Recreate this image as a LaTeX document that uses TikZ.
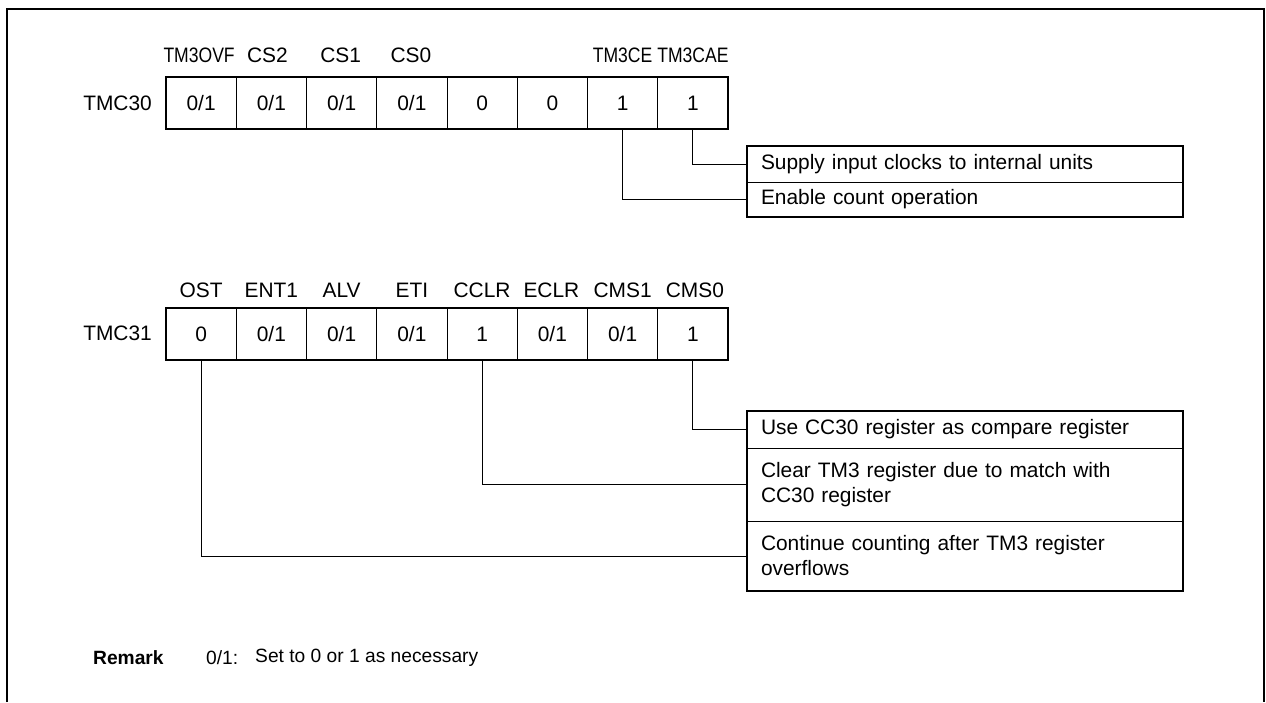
\documentclass[tikz,border=0pt]{standalone}
\usepackage{fontspec}
\usepackage{graphicx}
\setmainfont{Liberation Sans}
\newcommand{\sqz}[1]{\scalebox{0.84}[1]{#1}}
\begin{document}
\begin{tikzpicture}[x=1pt,y=-1pt,
  every node/.style={font=\fontsize{20.9}{25}\selectfont},
  cell/.style={draw=black, line width=1pt, minimum width=70.25pt, minimum height=52pt, inner sep=0pt, outer sep=0pt, anchor=north west},
  bitname/.style={inner sep=0pt},
  regname/.style={inner sep=0pt, anchor=east},
  desc/.style={draw=black, line width=1pt, anchor=north west, text width=408pt, inner xsep=14pt, inner ysep=0pt, align=left, outer sep=0pt},
  conn/.style={draw=black, line width=1pt},
  frameline/.style={line width=2pt},
  outerline/.style={line width=2.4pt},
  plain/.style={inner sep=0pt, anchor=west, font=\fontsize{19.2}{23}\selectfont}]
\useasboundingbox (0,0) rectangle (1266,702);
% outer frame
\draw[frameline] (6.5,702) -- (6.5,9) -- (1264,9) -- (1264,702);

% ---------- TMC30 ----------
\node[regname] (r30) at (152,103) {TMC30};
\node[cell] (a0) at (166,77) {0/1};
\node[cell] (a1) at (236.25,77) {0/1};
\node[cell] (a2) at (306.5,77) {0/1};
\node[cell] (a3) at (376.75,77) {0/1};
\node[cell] (a4) at (447,77) {0};
\node[cell] (a5) at (517.25,77) {0};
\node[cell] (a6) at (587.5,77) {1};
\node[cell] (a7) at (657.75,77) {1};
\draw[outerline] (a0.north west) rectangle (a7.south east);

\node[bitname] (la0) at (199.1,55) {\sqz{TM3OVF}};
\node[bitname] (la1) at (267.4,55) {CS2};
\node[bitname] (la2) at (340.6,55) {CS1};
\node[bitname] (la3) at (410.9,55) {CS0};
\node[bitname] (la6) at (622.6,55) {\sqz{TM3CE}};
\node[bitname] (la7) at (692.9,55) {\sqz{TM3CAE}};

\node[desc, minimum height=36pt] (u1) at (747,146) {Supply input clocks to internal units};
\node[desc, minimum height=35pt] (u2) at (u1.south west) {Enable count operation};
\draw[outerline] (u1.north west) rectangle (u2.south east);

\draw[conn] (a7.south) |- (u1.west);
\draw[conn] (a6.south) |- (u2.west);

% ---------- TMC31 ----------
\node[regname] (r31) at (152,333.5) {TMC31};
\node[cell] (b0) at (166,308) {0};
\node[cell] (b1) at (236.25,308) {0/1};
\node[cell] (b2) at (306.5,308) {0/1};
\node[cell] (b3) at (376.75,308) {0/1};
\node[cell] (b4) at (447,308) {1};
\node[cell] (b5) at (517.25,308) {0/1};
\node[cell] (b6) at (587.5,308) {0/1};
\node[cell] (b7) at (657.75,308) {1};
\draw[outerline] (b0.north west) rectangle (b7.south east);

\node[bitname] (lb0) at (201.1,290) {OST};
\node[bitname] (lb1) at (271.4,290) {ENT1};
\node[bitname] (lb2) at (341.6,290) {ALV};
\node[bitname] (lb3) at (411.9,290) {ETI};
\node[bitname] (lb4) at (482.1,290) {CCLR};
\node[bitname] (lb5) at (551.4,290) {ECLR};
\node[bitname] (lb6) at (622.6,290) {CMS1};
\node[bitname] (lb7) at (694.9,290) {CMS0};

\node[desc, minimum height=37pt] (d1) at (747,411) {Use CC30 register as compare register};
\node[desc, minimum height=73pt] (d2) at (d1.south west) {Clear TM3 register due to match with\\CC30 register};
\node[desc, minimum height=70pt] (d3) at (d2.south west) {Continue counting after TM3 register\\overflows};
\draw[outerline] (d1.north west) rectangle (d3.south east);

\draw[conn] (b7.south) |- (d1.west);
\draw[conn] (b4.south) |- (d2.west);
\draw[conn] (b0.south) |- (d3.west);

% ---------- Remark ----------
\node[plain] (rm) at (93,658) {\textbf{Remark}};
\node[plain] (rm1) at (206,658) {0/1:};
\node[plain] (rm2) at (255,658) {Set to 0 or 1 as necessary};
\end{tikzpicture}
\end{document}
